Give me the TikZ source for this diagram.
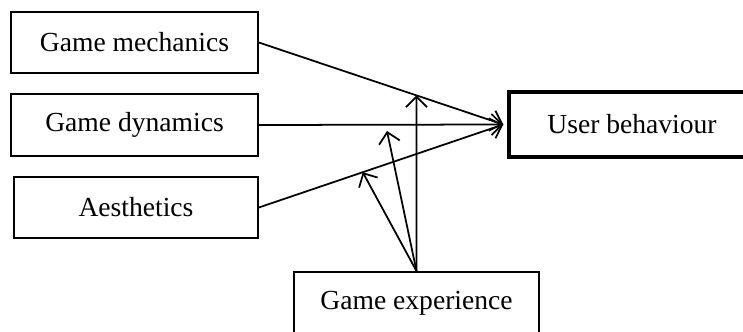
\documentclass[tikz,border=0pt]{standalone}
\usepackage{fontspec}
\setmainfont{Liberation Serif}
\usetikzlibrary{arrows.meta}
\usetikzlibrary{calc}

\begin{document}
\begin{tikzpicture}[x=0.02cm,y=-0.02cm,
  factor/.style={draw,line width=1pt,minimum width=4.94cm,minimum height=1.23cm,font=\fontsize{15.7}{18}\selectfont},
  link/.style={line width=1pt,-{Straight Barb[length=6pt,width=12pt]}}]
\useasboundingbox (0,0) rectangle (743,331);
\clip (0,0) rectangle (743,331);
\node[factor] (gm) at (134.5,42.5) {Game mechanics};
\node[factor] (gd) at (134.5,125) {Game dynamics};
\node[factor,minimum width=4.88cm] (ae) at (136,207.5) {Aesthetics};
\node[factor,line width=2pt,minimum width=4.92cm,minimum height=1.3cm] (ub) at (632,124.5) {User behaviour};
\node[factor,minimum width=4.9cm,minimum height=1.24cm] (ge) at (416.5,303) {Game experience};

\coordinate (hit) at ($(ub.west)+(-4,0)$);
\draw[link] (gm.east) -- (hit);
\draw[link] (gd.east) -- (hit);
\draw[link] (ae.east) -- (hit);

% moderating arrows
\coordinate (m1) at ($(gm.east)!0.645!(hit)$);
\coordinate (m2) at (387,131);
\coordinate (m3) at ($(ae.east)!0.425!(hit)$);
\draw[link] (ge.north) -- (m1);
\draw[link] (ge.north) -- (m2);
\draw[link] (ge.north) -- (m3);
\end{tikzpicture}
\end{document}
